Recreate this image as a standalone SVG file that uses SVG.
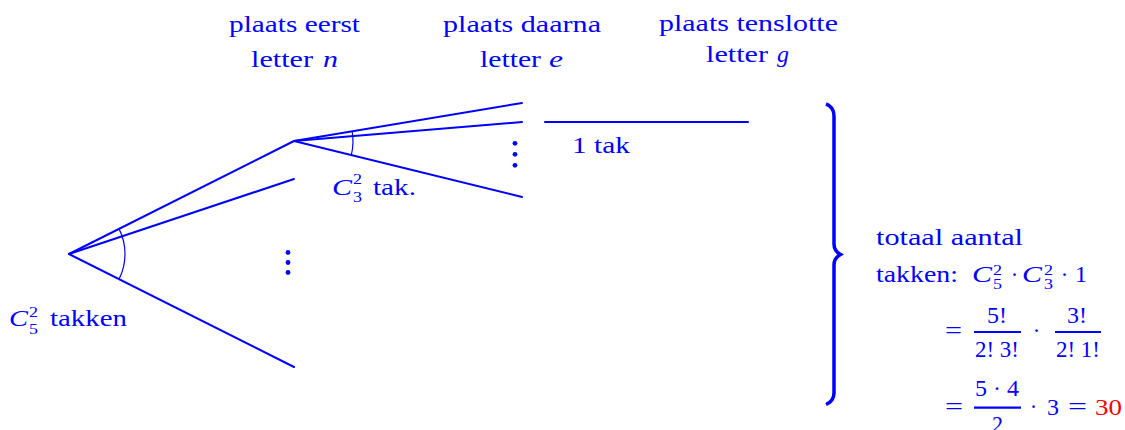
<svg xmlns="http://www.w3.org/2000/svg" width="1125" height="430" viewBox="0 0 1125 430">
<style>
  text { font-family: "Liberation Serif", "Times New Roman", serif; font-size: 22.5px; fill: #0000ff; }
  .it { font-style: italic; }
  .sm { font-size: 15px; }
  .red { fill: #ff0000; }
  .br { stroke: #0000ff; stroke-width: 2; fill: none; stroke-linecap: round; }
  .arc { stroke: #0000ff; stroke-width: 1.2; fill: none; }
  .bar { stroke: #0000ff; stroke-width: 2.2; }
  .vdot { fill: #0000ff; }
</style>
<rect width="1125" height="430" fill="#ffffff"/>

<g id="headers">
  <g id="header-n">
    <text x="229" y="32" textLength="131" lengthAdjust="spacingAndGlyphs">plaats eerst</text>
    <text x="251" y="66.5" textLength="62" lengthAdjust="spacingAndGlyphs">letter</text>
    <text class="it" x="323" y="66.5" textLength="15" lengthAdjust="spacingAndGlyphs">n</text>
  </g>
  <g id="header-e">
    <text x="443" y="32" textLength="158" lengthAdjust="spacingAndGlyphs">plaats daarna</text>
    <text x="480" y="66.5" textLength="61" lengthAdjust="spacingAndGlyphs">letter</text>
    <text class="it" x="549" y="66.5" textLength="14" lengthAdjust="spacingAndGlyphs">e</text>
  </g>
  <g id="header-g">
    <text x="659" y="31" textLength="179" lengthAdjust="spacingAndGlyphs">plaats tenslotte</text>
    <text x="706" y="61.5" textLength="62" lengthAdjust="spacingAndGlyphs">letter</text>
    <text class="it" x="777" y="61.5" textLength="12" lengthAdjust="spacingAndGlyphs">g</text>
  </g>
</g>

<g id="connectors">
  <line class="br" x1="69" y1="254" x2="294" y2="141"/>
  <line class="br" x1="69" y1="254" x2="294" y2="179"/>
  <line class="br" x1="69" y1="254" x2="294" y2="367"/>
  <line class="br" x1="294" y1="141" x2="522" y2="103"/>
  <line class="br" x1="294" y1="141" x2="522" y2="122"/>
  <line class="br" x1="294" y1="141" x2="522" y2="197"/>
  <line class="br" x1="545" y1="122" x2="748" y2="122"/>
  <path class="arc" d="M119.05,228.86 A56,56 0 0 1 119.05,279.14"/>
  <path class="arc" d="M352.15,131.05 A59,59 0 0 1 351.30,155.07"/>
</g>

<g id="root-node">
  <text class="it" x="9" y="326" textLength="19" lengthAdjust="spacingAndGlyphs">C</text>
  <text class="sm" x="29" y="316.5" textLength="9" lengthAdjust="spacingAndGlyphs">2</text>
  <text class="sm" x="29" y="333.5" textLength="9" lengthAdjust="spacingAndGlyphs">5</text>
  <text x="50" y="326" textLength="77" lengthAdjust="spacingAndGlyphs">takken</text>
</g>

<g id="node-n">
  <text class="it" x="332" y="195" textLength="20" lengthAdjust="spacingAndGlyphs">C</text>
  <text class="sm" x="353" y="184" textLength="9" lengthAdjust="spacingAndGlyphs">2</text>
  <text class="sm" x="353" y="201.5" textLength="9" lengthAdjust="spacingAndGlyphs">3</text>
  <text x="373" y="195" textLength="43" lengthAdjust="spacingAndGlyphs">tak.</text>
</g>

<g id="vdots-lower">
  <circle class="vdot" cx="288" cy="252.5" r="2.4"/>
  <circle class="vdot" cx="288" cy="262.5" r="2.4"/>
  <circle class="vdot" cx="288" cy="272.5" r="2.4"/>
</g>
<g id="vdots-upper">
  <circle class="vdot" cx="515" cy="143.3" r="2.4"/>
  <circle class="vdot" cx="515" cy="154.3" r="2.4"/>
  <circle class="vdot" cx="515" cy="165.3" r="2.4"/>
</g>

<g id="node-e">
  <text x="572" y="153" textLength="58" lengthAdjust="spacingAndGlyphs">1 tak</text>
</g>

<g id="brace">
  <path d="M826,104 Q834,107 834,116 V244 Q834,251 840.5,254.5 Q834,258 834,265 V393 Q834,401 826,404.5" fill="none" stroke="#0000ff" stroke-width="3.5"/>
</g>

<g id="total">
  <text x="876" y="245" textLength="147" lengthAdjust="spacingAndGlyphs">totaal aantal</text>
  <text x="876" y="282" textLength="82" lengthAdjust="spacingAndGlyphs">takken:</text>
  <text class="it" x="972" y="282" textLength="20" lengthAdjust="spacingAndGlyphs">C</text>
  <text class="sm" x="993" y="274.5" textLength="9" lengthAdjust="spacingAndGlyphs">2</text>
  <text class="sm" x="993" y="288.5" textLength="9" lengthAdjust="spacingAndGlyphs">5</text>
  <text x="1014.5" y="282" text-anchor="middle">·</text>
  <text class="it" x="1022" y="282" textLength="20" lengthAdjust="spacingAndGlyphs">C</text>
  <text class="sm" x="1044" y="274.5" textLength="9" lengthAdjust="spacingAndGlyphs">2</text>
  <text class="sm" x="1044" y="288.5" textLength="9" lengthAdjust="spacingAndGlyphs">3</text>
  <text x="1064.5" y="282" text-anchor="middle">·</text>
  <text x="1075" y="282" textLength="12" lengthAdjust="spacingAndGlyphs">1</text>

  <text x="945" y="338" textLength="17" lengthAdjust="spacingAndGlyphs">=</text>
  <text x="987" y="323" textLength="20" lengthAdjust="spacingAndGlyphs">5!</text>
  <line class="bar" x1="974" y1="332" x2="1021" y2="332"/>
  <text x="975" y="356.7" textLength="44" lengthAdjust="spacingAndGlyphs">2! 3!</text>
  <text x="1036.5" y="338" text-anchor="middle">·</text>
  <text x="1067" y="323" textLength="20" lengthAdjust="spacingAndGlyphs">3!</text>
  <line class="bar" x1="1055" y1="332" x2="1101" y2="332"/>
  <text x="1056" y="356.7" textLength="44" lengthAdjust="spacingAndGlyphs">2! 1!</text>

  <text x="945" y="413.5" textLength="18" lengthAdjust="spacingAndGlyphs">=</text>
  <text x="975" y="396" textLength="44" lengthAdjust="spacingAndGlyphs">5 · 4</text>
  <line class="bar" x1="974" y1="407.7" x2="1021" y2="407.7"/>
  <text x="992" y="432" textLength="11" lengthAdjust="spacingAndGlyphs">2</text>
  <text x="1033.5" y="413.5" text-anchor="middle">·</text>
  <text x="1047" y="414.5" textLength="12" lengthAdjust="spacingAndGlyphs">3</text>
  <text x="1068" y="413.5" textLength="19" lengthAdjust="spacingAndGlyphs">=</text>
  <text class="red" x="1095" y="414.5" textLength="27" lengthAdjust="spacingAndGlyphs">30</text>
</g>
</svg>
